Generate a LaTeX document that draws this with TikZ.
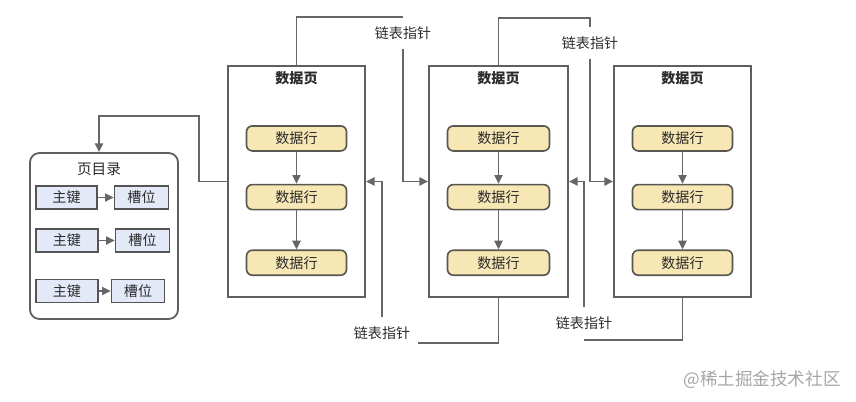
\documentclass[tikz,border=0pt]{standalone}
\usepackage{fontspec}
\setmainfont{Noto Sans CJK SC}
\usetikzlibrary{arrows.meta,positioning}
\definecolor{Ink}{HTML}{2B2B2B}
\definecolor{Wire}{HTML}{666666}
\definecolor{Frame}{HTML}{5F5F5F}
\definecolor{RowFill}{HTML}{F6E7B4}
\definecolor{RowLine}{HTML}{5A5650}
\definecolor{KeyFill}{HTML}{E4E9F8}
\definecolor{KeyLine}{HTML}{555555}
\definecolor{Mark}{HTML}{A6A6A6}
\tikzset{
  pagebox/.style={draw=Frame,fill=white,line width=1.5pt,minimum width=4.11cm,minimum height=6.93cm},
  pagetitle/.style={font=\bfseries\fontsize{12}{14}\selectfont,text=Ink},
  rowbox/.style={draw=RowLine,fill=RowFill,rounded corners=5pt,line width=1.4pt,minimum width=3cm,minimum height=0.75cm,font=\fontsize{12}{14}\selectfont,text=Ink},
  dirbox/.style={draw=Frame,fill=white,rounded corners=8pt,line width=1.5pt,minimum width=4.44cm,minimum height=4.98cm},
  dirtitle/.style={font=\fontsize{12.5}{14}\selectfont,text=Ink},
  keybox/.style={draw=KeyLine,fill=KeyFill,line width=1.3pt,minimum height=0.69cm,font=\fontsize{12}{14}\selectfont,text=Ink},
  ptrlabel/.style={font=\fontsize{12}{14}\selectfont,text=Ink,inner xsep=2pt,inner ysep=0.27cm},
  marktext/.style={font=\fontsize{15}{17}\selectfont,text=Mark},
  wire/.style={draw=Wire,line width=1.6pt},
  link/.style={wire,-{Triangle[length=2.6mm,width=2.4mm]}}
}
\begin{document}
\begin{tikzpicture}[x=0.03cm,y=-0.03cm,node distance=0.96cm and 0.48cm]
  \useasboundingbox (0,0) rectangle (856,402);
  \node[pagebox] (p1) at (296.5,181.5) {};
  \node[pagebox,minimum width=4.17cm] (p2) at (498.5,181.5) {};
  \node[pagebox] (p3) at (682.5,181.5) {};
  \node[pagetitle,below=0.08cm of p1.north] (t1) {数据页};
  \node[pagetitle,below=0.08cm of p2.north] (t2) {数据页};
  \node[pagetitle,below=0.08cm of p3.north] (t3) {数据页};
  \node[rowbox,below=1.8cm of p1.north] (r11) {数据行};
  \node[rowbox,below=of r11] (r12) {数据行};
  \node[rowbox,below=1.17cm of r12] (r13) {数据行};
  \node[rowbox,minimum width=3.06cm,below=1.8cm of p2.north] (r21) {数据行};
  \node[rowbox,minimum width=3.06cm,below=of r21] (r22) {数据行};
  \node[rowbox,minimum width=3.06cm,below=1.17cm of r22] (r23) {数据行};
  \node[rowbox,below=1.8cm of p3.north] (r31) {数据行};
  \node[rowbox,below=of r31] (r32) {数据行};
  \node[rowbox,below=1.17cm of r32] (r33) {数据行};
  \draw[link] (r11) -- (r12);
  \draw[link] (r12) -- (r13);
  \draw[link] (r21) -- (r22);
  \draw[link] (r22) -- (r23);
  \draw[link] (r31) -- (r32);
  \draw[link] (r32) -- (r33);

  \node[dirbox] (dir) at (104,236) {};
  \node[dirtitle] (dt) at (99,169) {页目录};
  \node[keybox,minimum width=1.83cm] (k1) at (66.5,197.5) {主键};
  \node[keybox,minimum width=1.62cm,right=of k1] (s1) {槽位};
  \node[keybox,minimum width=1.86cm] (k2) at (67,240.5) {主键};
  \node[keybox,minimum width=1.62cm,right=of k2] (s2) {槽位};
  \node[keybox,minimum width=1.86cm] (k3) at (67,291) {主键};
  \node[keybox,minimum width=1.59cm,right=0.36cm of k3] (s3) {槽位};
  \draw[link] (k1) -- (s1);
  \draw[link] (k2) -- (s2);
  \draw[link] (k3) -- (s3);

  \node[ptrlabel] (l1) at (403,33) {链表指针};
  \node[ptrlabel] (l2) at (382,333) {链表指针};
  \node[ptrlabel] (l3) at (590,43) {链表指针};
  \node[ptrlabel] (l4) at (584,323) {链表指针};
  \coordinate (c1) at (199,116);
  \coordinate (c2) at (590,18);
  \coordinate (b1) at (418,343);
  \coordinate (b2) at (584,340);
  \draw[link] (p1.west) -| (c1) -| ([xshift=-0.15cm]dir.north);
  \draw[wire] (p1.north) |- (l1.north);
  \draw[link] (l1.south) |- (p2.west);
  \draw[wire] (p2.south) |- (b1);
  \draw[link] (l2.north) |- (p1.east);
  \draw[wire] (p2.north) |- (c2) -- (l3.north);
  \draw[link] (l3.south) |- (p3.west);
  \draw[wire] (p3.south) |- (b2);
  \draw[link] (l4.north) |- (p2.east);

  \node[marktext] (wm) at (762,380) {@稀土掘金技术社区};
\end{tikzpicture}
\end{document}
